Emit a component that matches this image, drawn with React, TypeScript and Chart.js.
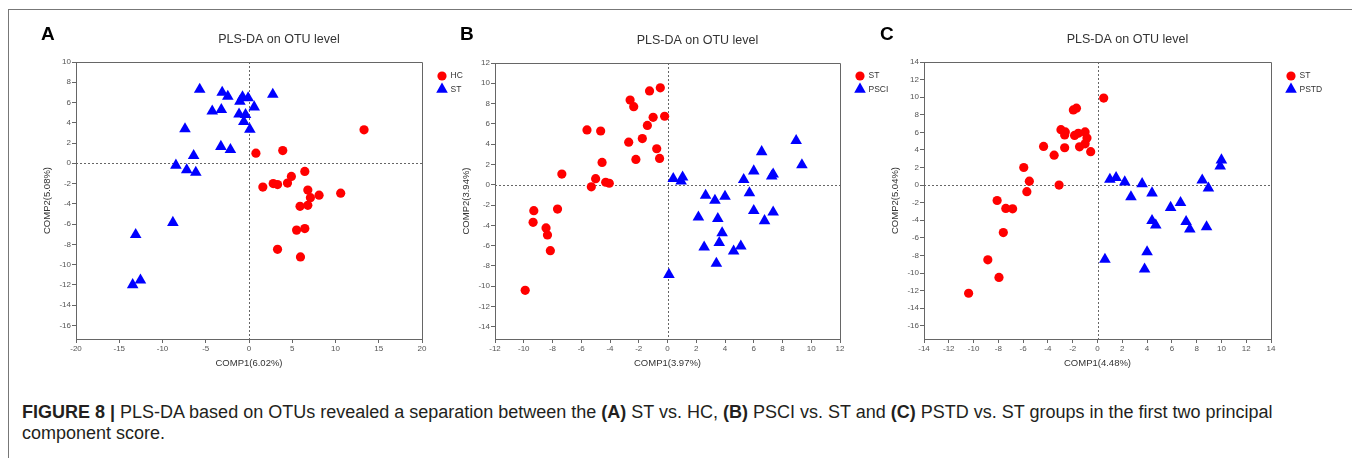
import React, { useEffect, useRef } from "react";
import { Chart, registerables } from "chart.js";
import { drawPoint } from "chart.js/helpers";

Chart.register(...registerables);

const FONT = "'Liberation Sans', Arial, Helvetica, sans-serif";
const RED = "#ff0000";
const BLUE = "#0000ff";
const AXIS = "#666666";
const TEXT = "#333333";

const chartTitle = "PLS-DA on OTU level";

// ---------- Panel A : ST vs HC ----------
const aLabels = ["HC", "ST"];
const aHC: [number, number][] = [
  [13.3, 3.3], [0.8, 1.0], [3.9, 1.25], [6.45, -0.8], [4.9, -1.3], [2.8, -2.0], [3.3, -2.1],
  [4.45, -1.95], [1.6, -2.35], [6.8, -2.65], [7.1, -3.4], [8.1, -3.15], [10.6, -2.95],
  [5.9, -4.25], [6.8, -4.15], [5.5, -6.6], [6.45, -6.45], [3.3, -8.5], [5.95, -9.25],
];
const aST: [number, number][] = [
  [-5.7, 7.3], [-3.1, 7.0], [-2.45, 6.6], [-0.75, 6.55], [-0.1, 6.45], [-1.05, 6.1], [2.75, 6.8],
  [0.6, 5.55], [-4.25, 5.15], [-3.2, 5.3], [-1.15, 4.85], [-0.4, 4.8], [-0.6, 4.1], [0.1, 3.35],
  [-7.4, 3.4], [-3.25, 1.65], [-2.15, 1.35], [-6.4, 0.75], [-8.45, -0.2], [-7.2, -0.65],
  [-6.15, -0.9], [-8.8, -5.85], [-13.1, -7.05], [-12.55, -11.55], [-13.45, -12.0],
];
const aXTicks = [-20, -15, -10, -5, 0, 5, 10, 15, 20];
const aYTicks = [-16, -14, -12, -10, -8, -6, -4, -2, 0, 2, 4, 6, 8, 10];

// ---------- Panel B : PSCI vs ST ----------
const bLabels = ["ST", "PSCI"];
const bST: [number, number][] = [
  [-0.5, 9.55], [-1.25, 9.25], [-2.6, 8.35], [-2.35, 7.7], [-0.2, 6.75], [-1.0, 6.65], [-1.4, 5.85],
  [-5.6, 5.4], [-4.65, 5.3], [-1.75, 4.55], [-2.7, 4.2], [-0.75, 3.55], [-2.2, 2.5], [-0.55, 2.6],
  [-4.55, 2.2], [-7.35, 1.05], [-5.0, 0.6], [-4.3, 0.25], [-4.05, 0.15], [-5.3, -0.2],
  [-7.65, -2.4], [-9.3, -2.55], [-9.35, -3.7], [-8.45, -4.25], [-8.35, -4.95], [-8.15, -6.5],
  [-9.9, -10.4],
];
const bPSCI: [number, number][] = [
  [8.95, 4.35], [9.35, 1.95], [6.55, 3.25], [6.0, 1.35], [7.35, 1.05], [7.25, 0.85], [5.3, 0.5],
  [0.4, 0.6], [1.05, 0.75], [0.95, 0.35], [5.7, -0.8], [2.65, -1.05], [4.0, -1.15], [3.3, -1.55],
  [2.15, -3.2], [6.0, -2.55], [7.35, -2.7], [6.75, -3.55], [3.5, -3.35], [3.8, -4.75],
  [3.6, -5.7], [2.55, -6.15], [5.1, -6.05], [4.6, -6.55], [3.4, -7.75], [0.1, -8.85],
];
const bXTicks = [-12, -10, -8, -6, -4, -2, 0, 2, 4, 6, 8, 10, 12];
const bYTicks = [-14, -12, -10, -8, -6, -4, -2, 0, 2, 4, 6, 8, 10, 12];

// ---------- Panel C : PSTD vs ST ----------
const cLabels = ["ST", "PSTD"];
const cST: [number, number][] = [
  [0.5, 9.9], [-1.95, 8.55], [-1.7, 8.75], [-2.95, 6.3], [-2.6, 6.05], [-2.65, 5.7], [-1.85, 5.65],
  [-1.55, 5.9], [-1.0, 6.05], [-0.85, 5.35], [-1.0, 4.7], [-1.45, 4.35], [-4.35, 4.4],
  [-2.65, 4.25], [-3.5, 3.4], [-0.55, 3.8], [-5.95, 2.0], [-5.5, 0.45], [-3.1, 0.0],
  [-5.7, -0.75], [-8.1, -1.75], [-7.4, -2.65], [-6.85, -2.7], [-7.6, -5.4], [-8.85, -8.5],
  [-7.95, -10.5], [-10.4, -12.3],
];
const cPSTD: [number, number][] = [
  [10.0, 2.85], [9.9, 2.15], [1.0, 0.65], [1.5, 0.85], [2.2, 0.35], [3.6, 0.15], [8.45, 0.55],
  [8.95, -0.35], [2.7, -1.35], [4.4, -0.9], [6.7, -2.0], [5.9, -2.55], [4.4, -4.05], [4.7, -4.55],
  [7.15, -4.15], [7.45, -5.0], [8.8, -4.75], [0.6, -8.45], [4.0, -7.6], [3.8, -9.55],
];
const cXTicks = [-14, -12, -10, -8, -6, -4, -2, 0, 2, 4, 6, 8, 10, 12, 14];
const cYTicks = [-16, -14, -12, -10, -8, -6, -4, -2, 0, 2, 4, 6, 8, 10, 12, 14];

// ---------- layout ----------
const CW = 1346;
const CH = 380;
const Y_AXIS_W = 40;
const X_AXIS_H = 30;

type Panel = {
  letter: string;
  labels: string[];
  red: [number, number][];
  blue: [number, number][];
  xTicks: number[];
  yTicks: number[];
  xMin: number;
  xMax: number;
  yMin: number;
  yMax: number;
  xTitle: string;
  yTitle: string;
  area: { l: number; r: number; t: number; b: number };
  letterDx: number;
  titleBase: number;
};

const panels: Panel[] = [
  {
    letter: "A", labels: aLabels, red: aHC, blue: aST, xTicks: aXTicks, yTicks: aYTicks,
    xMin: -20, xMax: 20, yMin: -17.35, yMax: 10,
    xTitle: "COMP1(6.02%)", yTitle: "COMP2(5.08%)",
    area: { l: 67, r: 413, t: 52, b: 329 }, letterDx: -35, titleBase: 33,
  },
  {
    letter: "B", labels: bLabels, red: bST, blue: bPSCI, xTicks: bXTicks, yTicks: bYTicks,
    xMin: -12, xMax: 12, yMin: -15.2, yMax: 12,
    xTitle: "COMP1(3.97%)", yTitle: "COMP2(3.94%)",
    area: { l: 486, r: 831, t: 53, b: 329 }, letterDx: -35, titleBase: 34,
  },
  {
    letter: "C", labels: cLabels, red: cST, blue: cPSTD, xTicks: cXTicks, yTicks: cYTicks,
    xMin: -14, xMax: 14, yMin: -17.5, yMax: 14,
    xTitle: "COMP1(4.48%)", yTitle: "COMP2(5.04%)",
    area: { l: 915, r: 1262, t: 52, b: 329 }, letterDx: -44, titleBase: 33,
  },
];

const CIRCLE_R = 4.6;
const TRI_R = 6.7;

function makeChart(canvas: HTMLCanvasElement, p: Panel) {
  const decor = {
    id: "panelDecor",
    beforeDatasetsDraw(chart: any) {
      const { ctx, chartArea: a, scales } = chart;
      const x0 = Math.round(scales.x.getPixelForValue(0)) + 0.5;
      const y0 = Math.round(scales.y.getPixelForValue(0)) + 0.5;
      ctx.save();
      ctx.strokeStyle = AXIS;
      ctx.lineWidth = 1;
      ctx.setLineDash([2, 2]);
      ctx.beginPath();
      ctx.moveTo(x0, a.top);
      ctx.lineTo(x0, a.bottom);
      ctx.moveTo(a.left, y0);
      ctx.lineTo(a.right, y0);
      ctx.stroke();
      ctx.setLineDash([]);
      const top = Math.round(a.top) + 0.5;
      const right = Math.round(a.right) + 0.5;
      ctx.beginPath();
      ctx.moveTo(a.left, top);
      ctx.lineTo(right, top);
      ctx.lineTo(right, a.bottom);
      ctx.stroke();
      ctx.restore();
    },
    afterDraw(chart: any) {
      const { ctx, chartArea: a } = chart;
      ctx.save();
      // panel letter
      ctx.fillStyle = "#000";
      ctx.font = `bold 19px ${FONT}`;
      ctx.textAlign = "left";
      ctx.textBaseline = "alphabetic";
      ctx.fillText(p.letter, a.left + p.letterDx, 30);
      // title
      ctx.fillStyle = TEXT;
      ctx.font = `12.5px ${FONT}`;
      ctx.textAlign = "center";
      ctx.fillText(chartTitle, (a.left + a.right) / 2 + 30, p.titleBase);
      // legend
      ctx.font = `8.5px ${FONT}`;
      ctx.textAlign = "left";
      ctx.textBaseline = "middle";
      chart.data.datasets.forEach((ds: any, i: number) => {
        const y = 66 + i * 13.3;
        const x = a.right + 20;
        ctx.fillStyle = ds.backgroundColor;
        drawPoint(ctx, { pointStyle: ds.pointStyle, radius: ds.pointRadius, rotation: 0, borderWidth: 0 } as any, x, y);
        ctx.fillStyle = TEXT;
        ctx.fillText(ds.label, a.right + 28.5, y);
      });
      ctx.restore();
    },
  };

  const tickFont = { family: FONT, size: 8 };
  const titleFont = { family: FONT, size: 9.5 };

  return new Chart(canvas, {
    type: "scatter",
    data: {
      datasets: [
        {
          label: p.labels[0],
          data: p.red.map(([x, y]) => ({ x, y })),
          pointStyle: "circle",
          pointRadius: CIRCLE_R,
          backgroundColor: RED,
          borderWidth: 0,
        },
        {
          label: p.labels[1],
          data: p.blue.map(([x, y]) => ({ x, y })),
          pointStyle: "triangle",
          pointRadius: TRI_R,
          backgroundColor: BLUE,
          borderWidth: 0,
        },
      ],
    },
    options: {
      responsive: false,
      animation: false,
      events: [],
      layout: {
        padding: {
          left: p.area.l - Y_AXIS_W,
          right: CW - p.area.r,
          top: p.area.t,
          bottom: CH - p.area.b - X_AXIS_H,
        },
      },
      plugins: {
        legend: { display: false },
        tooltip: { enabled: false },
        title: { display: false },
      },
      scales: {
        x: {
          type: "linear",
          min: p.xMin,
          max: p.xMax,
          afterBuildTicks: (s: any) => {
            s.ticks = p.xTicks.map((v) => ({ value: v }));
          },
          afterFit: (s: any) => {
            s.height = X_AXIS_H;
            s.paddingLeft = 0;
            s.paddingRight = 0;
          },
          grid: { drawOnChartArea: false, drawTicks: true, tickLength: 4, color: AXIS },
          border: { display: true, color: AXIS, width: 1 },
          ticks: {
            font: tickFont,
            color: "#555",
            padding: 1,
            maxRotation: 0,
            autoSkip: false,
            callback: (v: any) => String(v),
          },
          title: {
            display: true,
            text: p.xTitle,
            font: titleFont,
            color: TEXT,
            padding: { top: 0, bottom: 0 },
          },
        },
        y: {
          type: "linear",
          min: p.yMin,
          max: p.yMax,
          afterBuildTicks: (s: any) => {
            s.ticks = p.yTicks.map((v) => ({ value: v }));
          },
          afterFit: (s: any) => {
            s.width = Y_AXIS_W;
            s.paddingTop = 0;
            s.paddingBottom = 0;
          },
          grid: { drawOnChartArea: false, drawTicks: true, tickLength: 4, color: AXIS },
          border: { display: true, color: AXIS, width: 1 },
          ticks: {
            font: tickFont,
            color: "#555",
            padding: 1,
            autoSkip: false,
            callback: (v: any) => String(v),
          },
          title: {
            display: true,
            text: p.yTitle,
            font: titleFont,
            color: TEXT,
            padding: { top: 5.8, bottom: 0 },
          },
        },
      },
    } as any,
    plugins: [decor],
  });
}

export default function App() {
  const r0 = useRef<HTMLCanvasElement>(null);
  const r1 = useRef<HTMLCanvasElement>(null);
  const r2 = useRef<HTMLCanvasElement>(null);

  useEffect(() => {
    const refs = [r0, r1, r2];
    const charts = panels.map((p, i) => makeChart(refs[i].current as HTMLCanvasElement, p));
    return () => charts.forEach((c) => c.destroy());
  }, []);

  const canvasStyle: React.CSSProperties = {
    position: "absolute",
    left: 0,
    top: 0,
    width: CW,
    height: CH,
    display: "block",
  };

  return (
    <div
      style={{
        position: "relative",
        width: CW,
        height: 452,
        marginTop: 1,
        border: "1px solid #777",
        background: "#fff",
        fontFamily: FONT,
      }}
    >
      <canvas ref={r0} width={CW} height={CH} style={canvasStyle} />
      <canvas ref={r1} width={CW} height={CH} style={canvasStyle} />
      <canvas ref={r2} width={CW} height={CH} style={canvasStyle} />
      <div
        style={{
          position: "absolute",
          left: 13,
          top: 392,
          fontSize: 18,
          lineHeight: "21px",
          color: "#231f20",
          whiteSpace: "nowrap",
        }}
      >
        <b>FIGURE 8 |</b> PLS-DA based on OTUs revealed a separation between the <b>(A)</b> ST vs. HC,{" "}
        <b>(B)</b> PSCI vs. ST and <b>(C)</b> PSTD vs. ST groups in the first two principal
        <br />
        component score.
      </div>
    </div>
  );
}
